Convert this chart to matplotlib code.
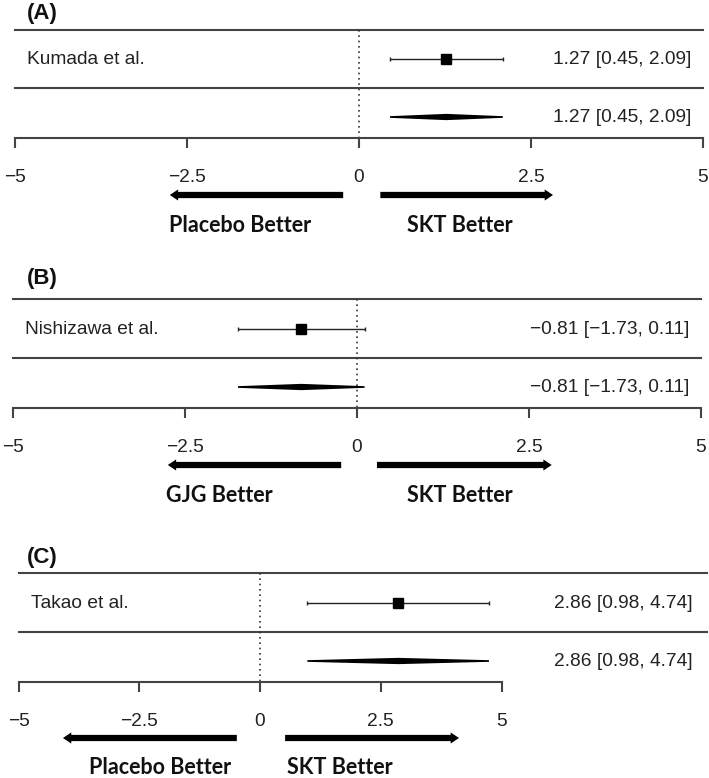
import matplotlib
matplotlib.use("Agg")
import matplotlib.pyplot as plt
from matplotlib.patches import Polygon

W, H = 709, 778

# data
panel_tags = ["(A)", "(B)", "(C)"]
studies = ["Kumada et al.", "Nishizawa et al.", "Takao et al."]
est = [1.27, -0.81, 2.86]
ci_lo = [0.45, -1.73, 0.98]
ci_hi = [2.09, 0.11, 4.74]
left_labels = ["Placebo Better", "GJG Better", "Placebo Better"]
right_labels = ["SKT Better", "SKT Better", "SKT Better"]
tick_vals = [-5, -2.5, 0, 2.5, 5]
tick_txt = ["\u22125", "\u22122.5", "0", "2.5", "5"]

# layout (pixels of the figure, y downward)
layout = [
    dict(x0=359, ppu=68.8, top=30, mid=88, axis=138, row=59, summ=117, tag_y=13,
         name_x=27, txt_r=691, line_r=5, arr_y=195, arr_l=(-0.23, -2.75), arr_r=(0.31, 2.82),
         lab_y=226, lab_l=-1.73, lab_r=1.47),
    dict(x0=357, ppu=68.8, top=299, mid=358, axis=408, row=329, summ=387, tag_y=278,
         name_x=25, txt_r=689, line_r=5, arr_y=465, arr_l=(-0.23, -2.75), arr_r=(0.29, 2.83),
         lab_y=496, lab_l=-2.0, lab_r=1.5),
    dict(x0=260, ppu=48.3, top=573, mid=632, axis=682, row=603, summ=661, tag_y=557,
         name_x=31, txt_r=693, line_r=9.25, arr_y=738, arr_l=(-0.48, -4.08), arr_r=(0.52, 4.12),
         lab_y=768, lab_l=-2.07, lab_r=1.66),
]

plt.rcParams['font.family'] = ['Liberation Sans', 'DejaVu Sans']
fig = plt.figure(figsize=(W / 100, H / 100), dpi=100)
fig.patch.set_facecolor('white')

grey = '#444444'
fs = 13.8

for i, L in enumerate(layout):
    ax = fig.add_axes([0, (H - L['axis']) / H, 1, (L['axis'] - L['top']) / H])
    ax.set_xlim(-L['x0'] / L['ppu'], (W - L['x0']) / L['ppu'])
    ax.set_ylim(L['axis'], L['top'])
    ax.patch.set_alpha(0)
    for s in ['top', 'left', 'right']:
        ax.spines[s].set_visible(False)
    ax.spines['bottom'].set_bounds(-5, 5)
    ax.spines['bottom'].set_linewidth(1.5)
    ax.spines['bottom'].set_color(grey)
    ax.set_yticks([])
    ax.set_xticks(tick_vals)
    ax.set_xticklabels(tick_txt, fontsize=fs, color='#222222')
    ax.tick_params(axis='x', direction='out', length=7, width=1.5, color=grey, pad=15)

    px = lambda p: (p - L['x0']) / L['ppu']

    # horizontal rules
    for yy in (L['top'], L['mid']):
        ax.plot([-5, L['line_r']], [yy, yy], color=grey, lw=1.5, clip_on=False)
    # null line
    ax.plot([0, 0], [L['top'], L['axis']], color='#333333', lw=1.2, ls=(0, (1, 2.2)), clip_on=False)

    # study
    ax.errorbar(est[i], L['row'], xerr=[[est[i] - ci_lo[i]], [ci_hi[i] - est[i]]],
                fmt='s', color='black', ms=6.5, elinewidth=1, capsize=1.5, capthick=1, ecolor='#222222')
    # summary diamond
    dh = 2.3
    ax.add_patch(Polygon([(ci_lo[i], L['summ']), (est[i], L['summ'] - dh),
                          (ci_hi[i], L['summ']), (est[i], L['summ'] + dh)],
                         closed=True, facecolor='black', edgecolor='black', lw=1.2))

    ci_txt = f"{est[i]:.2f} [{ci_lo[i]:.2f}, {ci_hi[i]:.2f}]".replace('-', '\u2212')
    ax.text(px(L['name_x']), L['row'], studies[i], fontsize=fs, va='center', ha='left', color='#222222')
    ax.text(px(L['txt_r']), L['row'], ci_txt, fontsize=fs, va='center', ha='right', color='#222222')
    ax.text(px(L['txt_r']), L['summ'], ci_txt, fontsize=fs, va='center', ha='right', color='#222222')
    ax.text(px(27), L['tag_y'], panel_tags[i], fontsize=16, fontweight='bold', va='center', ha='left',
            color='#111111', clip_on=False)

    # direction arrows
    for (tail, tip) in (L['arr_l'], L['arr_r']):
        ax.annotate('', xy=(tip, L['arr_y']), xytext=(tail, L['arr_y']), annotation_clip=False,
                    arrowprops=dict(arrowstyle='simple,head_length=0.6,head_width=0.8,tail_width=0.45',
                                    mutation_scale=10, color='black', lw=0, shrinkA=0, shrinkB=0))
    ax.text(L['lab_l'], L['lab_y'], left_labels[i], fontsize=15.5, fontweight='bold', family='Lato',
            ha='center', va='center', color='#111111', clip_on=False)
    ax.text(L['lab_r'], L['lab_y'], right_labels[i], fontsize=15.5, fontweight='bold', family='Lato',
            ha='center', va='center', color='#111111', clip_on=False)

fig.savefig('out.png', dpi=100, facecolor='white')
